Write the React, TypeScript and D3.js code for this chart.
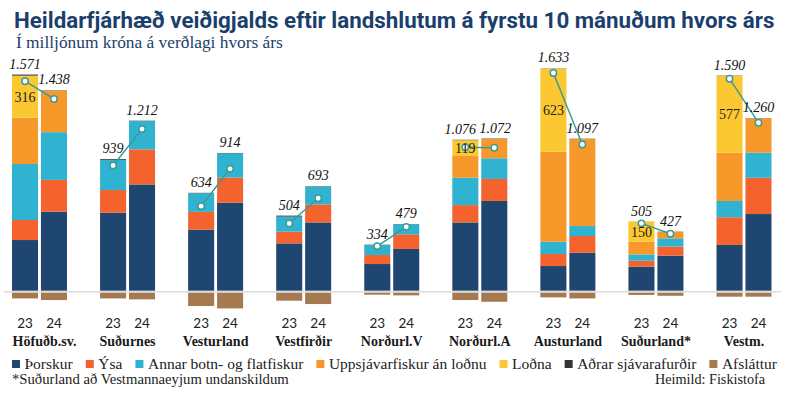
import React, { useRef, useEffect } from "react";
import * as d3 from "d3";

// Values in millions ISK: [2023, 2024] per region
const regions = ["Höfuðb.sv.", "Suðurnes", "Vesturland", "Vestfirðir", "Norðurl.V", "Norðurl.A", "Austurland", "Suðurland*", "Vestm."];
const years = ["23", "24"];
const thorskur = [[380, 593], [585, 797], [458, 660], [355, 512], [200, 313], [512, 673], [185, 285], [180, 263], [343, 575]];
const ysa = [[150, 238], [170, 263], [133, 188], [88, 135], [68, 110], [130, 165], [90, 125], [45, 68], [208, 272]];
const annar = [[420, 358], [227, 212], [140, 182], [113, 133], [75, 75], [205, 155], [92, 75], [47, 62], [122, 188]];
const uppsjavar = [[347, 310], [0, 0], [0, 0], [0, 0], [0, 0], [163, 145], [675, 653], [95, 50], [362, 257]];
const lodna = [[316, 0], [0, 0], [0, 0], [0, 0], [0, 0], [119, 0], [623, 0], [150, 0], [577, 0]];
const adrar = [[8, 3], [6, 3], [3, 3], [7, 3], [2, 2], [3, 3], [2, 2], [1, 1], [2, 2]];
const afslattur = [[43, 55], [43, 50], [100, 118], [60, 85], [15, 20], [55, 68], [35, 43], [17, 23], [30, 30]];
const totals = [[1571, 1438], [939, 1212], [634, 914], [504, 693], [334, 479], [1076, 1072], [1633, 1097], [505, 427], [1590, 1260]];

const seriesNames = ["Þorskur", "Ýsa", "Annar botn- og flatfiskur", "Uppsjávarfiskur án loðnu", "Loðna", "Aðrar sjávarafurðir", "Afsláttur"];
const seriesColors = ["#1f4670", "#f4622e", "#2fb3d0", "#f7982b", "#fcc832", "#333333", "#a57a50"];

const W = 785;
const H = 395;
const NAVY = "#1b3f6c";
const SERIF = "'Liberation Serif', serif";

export default function App() {
    const ref = useRef<SVGSVGElement>(null);

    useEffect(() => {
        if (!ref.current) return;
        const svg = d3.select(ref.current);
        svg.selectAll("*").remove();

        const fmt = d3.formatLocale({ thousands: ".", grouping: [3], decimal: ",", currency: ["", ""] }).format(",d");
        // scale a text's font size so it spans the target width
        const fit = (sel: any, target: number) => {
            const w = sel.node().getComputedTextLength();
            const fs = parseFloat(sel.attr("font-size"));
            sel.attr("font-size", fs * target / w);
        };

        const keys = ["thorskur", "ysa", "annar", "uppsjavar", "lodna", "adrar"];
        const src = [thorskur, ysa, annar, uppsjavar, lodna, adrar];
        const rows: any[] = [];
        regions.forEach((r, i) => years.forEach((yr, j) => {
            const row: any = { region: r, year: yr, total: totals[i][j], disc: afslattur[i][j], lodna: lodna[i][j] };
            keys.forEach((k, ki) => { row[k] = src[ki][i][j]; });
            rows.push(row);
        }));
        const stacked = d3.stack().keys(keys)(rows);

        const x = d3.scalePoint().domain(regions).range([39.5, 744]);
        const xi = d3.scaleBand().domain(years).range([-27.5, 27.5]).paddingInner(0.1);
        const y = d3.scaleLinear().domain([0, 1500]).range([290.7, 90.7]);
        const bx = (d: any) => (x(d.region) as number) + (xi(d.year) as number);
        const bw = xi.bandwidth();

        // Title and subtitle
        const title = svg.append("text")
            .attr("x", 14).attr("y", 27.5)
            .attr("font-family", "Roboto, sans-serif").attr("font-weight", 700)
            .attr("font-size", 21).attr("fill", NAVY)
            .text("Heildarfjárhæð veiðigjalds eftir landshlutum á fyrstu 10 mánuðum hvors árs");
        fit(title, 761);
        const sub = svg.append("text")
            .attr("x", 16).attr("y", 47.5)
            .attr("font-family", SERIF).attr("font-size", 16).attr("fill", NAVY)
            .text("Í milljónum króna á verðlagi hvors árs");
        fit(sub, 267);

        // Baseline
        svg.append("line")
            .attr("x1", 4).attr("x2", 781)
            .attr("y1", y(0) + 1).attr("y2", y(0) + 1)
            .attr("stroke", "#dcdcdc").attr("stroke-width", 1.6);

        // Stacked bars
        svg.append("g").selectAll("g")
            .data(stacked)
            .join("g")
            .attr("fill", (_, i) => seriesColors[i])
            .selectAll("rect")
            .data(s => s.filter(d => d[1] - d[0] > 0))
            .join("rect")
            .attr("x", d => bx(d.data))
            .attr("width", bw)
            .attr("y", d => y(d[1]))
            .attr("height", d => y(d[0]) - y(d[1]));

        // Discount below the axis
        svg.append("g").selectAll("rect")
            .data(rows)
            .join("rect")
            .attr("fill", seriesColors[6])
            .attr("x", d => bx(d))
            .attr("width", bw)
            .attr("y", y(0) + 2)
            .attr("height", d => y(0) - y(d.disc));

        // Net total line and points
        const line = d3.line<any>()
            .x(d => bx(d) + bw / 2)
            .y(d => y(d.total));
        regions.forEach(r => {
            const pair = rows.filter(d => d.region === r);
            svg.append("path")
                .datum(pair)
                .attr("fill", "none")
                .attr("stroke", "#3b9c96")
                .attr("stroke-width", 1.5)
                .attr("d", line);
        });
        svg.append("g").selectAll("circle")
            .data(rows)
            .join("circle")
            .attr("cx", d => bx(d) + bw / 2)
            .attr("cy", d => y(d.total))
            .attr("r", 3.2)
            .attr("fill", "#fff")
            .attr("stroke", "#3b9c96")
            .attr("stroke-width", 1.5);

        // Loðna values inside the bars (on top of the line)
        svg.append("g").selectAll("text")
            .data(rows.filter(d => d.lodna > 0))
            .join("text")
            .attr("x", d => bx(d) + bw / 2)
            .attr("y", d => {
                const top = d.thorskur + d.ysa + d.annar + d.uppsjavar;
                return y(top + d.lodna / 2) + 5;
            })
            .attr("text-anchor", "middle")
            .attr("font-family", SERIF).attr("font-size", 14).attr("fill", "#222")
            .text(d => d.lodna);

        // Total labels above bars
        const stackTop = (d: any) => keys.reduce((s, k) => s + d[k], 0);
        svg.append("g").selectAll("text")
            .data(rows)
            .join("text")
            .attr("x", d => {
                const pair = rows.filter(p => p.region === d.region);
                const close = Math.abs(stackTop(pair[0]) - stackTop(pair[1])) < 60;
                const shift = close ? (d.year === "23" ? -5 : 1) : 0;
                return bx(d) + bw / 2 + shift;
            })
            .attr("y", d => y(stackTop(d)) - 6)
            .attr("text-anchor", "middle")
            .attr("font-family", SERIF).attr("font-style", "italic")
            .attr("font-size", 14).attr("fill", "#111")
            .text(d => fmt(d.total));

        // Year ticks and region names
        svg.append("g").selectAll("text")
            .data(rows)
            .join("text")
            .attr("x", d => bx(d) + bw / 2)
            .attr("y", 328)
            .attr("text-anchor", "middle")
            .attr("font-family", "Lato, sans-serif").attr("font-size", 13.5).attr("fill", "#222")
            .text(d => d.year);
        svg.append("g").selectAll("text")
            .data(regions)
            .join("text")
            .attr("x", d => (x(d) as number) + (d === regions[0] ? 5 : 0))
            .attr("y", 346)
            .attr("text-anchor", "middle")
            .attr("font-family", SERIF).attr("font-weight", 700)
            .attr("font-size", 14).attr("fill", "#1a1a1a")
            .text(d => d);

        // Legend, spread between x=12 and x=777
        const lg = svg.append("g");
        const items = seriesNames.map(name => {
            const g = lg.append("g");
            g.append("rect").attr("width", 8).attr("height", 8).attr("y", 360);
            const t = g.append("text").attr("x", 12.5).attr("y", 368.5)
                .attr("font-family", SERIF).attr("font-size", 15.5).attr("fill", "#222")
                .text(name);
            return { g, w: 12.5 + (t.node() as SVGTextElement).getComputedTextLength() };
        });
        const gap = (777 - 12 - d3.sum(items, d => d.w)) / (items.length - 1);
        let cx = 12;
        items.forEach((it, i) => {
            it.g.attr("transform", `translate(${cx},0)`);
            it.g.select("rect").attr("fill", seriesColors[i]);
            cx += it.w + gap;
        });

        // Footnote and source
        const foot = svg.append("text")
            .attr("x", 12).attr("y", 384)
            .attr("font-family", SERIF).attr("font-size", 14).attr("fill", "#222")
            .text("*Suðurland að Vestmannaeyjum undanskildum");
        fit(foot, 277);
        const srcT = svg.append("text")
            .attr("x", 765).attr("y", 384)
            .attr("text-anchor", "end")
            .attr("font-family", SERIF).attr("font-size", 14).attr("fill", "#222")
            .text("Heimild: Fiskistofa");
        fit(srcT, 110);
    }, []);

    return (
        <svg
            ref={ref}
            width={W}
            height={H}
            style={{ position: "absolute", left: 0, top: 0, display: "block", background: "#fff" }}
        />
    );
}
